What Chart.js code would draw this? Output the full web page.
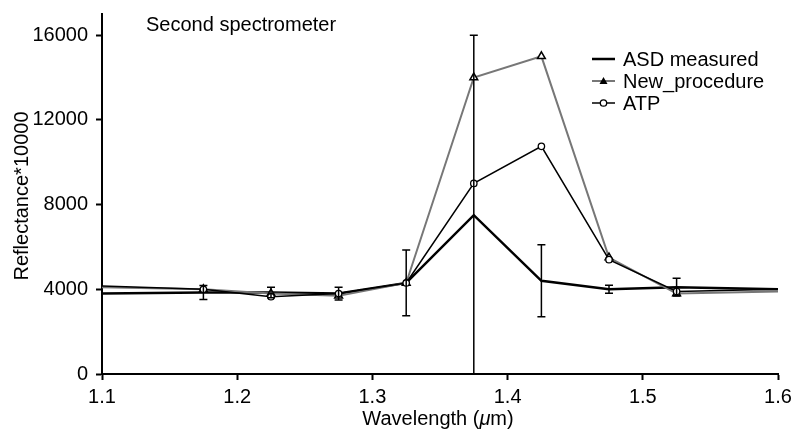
<!DOCTYPE html>
<html>
<head>
<meta charset="utf-8">
<script src="https://cdn.jsdelivr.net/npm/chart.js@4"></script>
<style>
  body { margin: 0; background: #fff; }
  canvas { display: block; }
</style>
</head>
<body>
<canvas id="chart" width="791" height="433"></canvas>
<script>
// Datos
const wavelengths = [1.1, 1.175, 1.225, 1.275, 1.325, 1.375, 1.425, 1.475, 1.525, 1.6];
const asdMeasured = [3800, 3850, 3850, 3800, 4300, 7500, 4400, 4000, 4100, 4000];
const asdError = [null, 330, 250, 300, 1550, 8500, 1700, 190, 420, null];
const newProcedure = [4100, 4000, 3800, 3700, 4300, 14000, 15000, 5500, 3800, 3900];
const atp = [4150, 4000, 3650, 3800, 4300, 9000, 10750, 5400, 3900, 4000];
const xTicks = [1.1, 1.2, 1.3, 1.4, 1.5, 1.6];
const yTicks = [0, 4000, 8000, 12000, 16000];

const FONT = '"Liberation Sans", Arial, sans-serif';

function toPoints(ys) {
    return wavelengths.map((x, i) => ({ x: x, y: ys[i] }));
}
// sin marcadores en los extremos
const markerRadius = (r) => wavelengths.map((x, i) => (i === 0 || i === wavelengths.length - 1) ? 0 : r);

// Barras de error sobre ASD measured
const errorBarsPlugin = {
    id: 'errorBars',
    afterDatasetsDraw(chart) {
        const ctx = chart.ctx;
        const xs = chart.scales.x, ys = chart.scales.y;
        ctx.save();
        ctx.strokeStyle = '#000';
        ctx.lineWidth = 1.5;
        wavelengths.forEach((w, i) => {
            if (asdError[i] == null) return;
            const px = xs.getPixelForValue(w);
            const hi = asdMeasured[i] + asdError[i];
            const lo = Math.max(ys.min, asdMeasured[i] - asdError[i]);
            const pyHi = ys.getPixelForValue(hi);
            const pyLo = ys.getPixelForValue(lo);
            ctx.beginPath();
            ctx.moveTo(px, pyHi); ctx.lineTo(px, pyLo);
            ctx.moveTo(px - 4, pyHi); ctx.lineTo(px + 4, pyHi);
            if (lo > ys.min) { ctx.moveTo(px - 4, pyLo); ctx.lineTo(px + 4, pyLo); }
            ctx.stroke();
        });
        ctx.restore();
    }
};

// Textos: título interno, títulos de ejes y leyenda
const labelsPlugin = {
    id: 'labels',
    afterDraw(chart) {
        const ctx = chart.ctx;
        ctx.save();
        ctx.fillStyle = '#000';
        ctx.font = '20px ' + FONT;
        ctx.textBaseline = 'middle';
        ctx.textAlign = 'left';
        ctx.fillText('Second spectrometer', 146, 25);

        // título eje x
        const t1 = 'Wavelength (', t3 = 'm)';
        ctx.font = '20px ' + FONT;
        const w1 = ctx.measureText(t1).width;
        ctx.font = 'italic 20px ' + FONT;
        const w2 = ctx.measureText('\u03bc').width;
        ctx.font = '20px ' + FONT;
        const w3 = ctx.measureText(t3).width;
        const sx = 438 - (w1 + w2 + w3) / 2;
        const ty = 419;
        ctx.fillText(t1, sx, ty);
        ctx.font = 'italic 20px ' + FONT;
        ctx.fillText('\u03bc', sx + w1, ty);
        ctx.font = '20px ' + FONT;
        ctx.fillText(t3, sx + w1 + w2, ty);

        // título eje y
        ctx.save();
        ctx.translate(22, 196);
        ctx.rotate(-Math.PI / 2);
        ctx.textAlign = 'center';
        ctx.fillText('Reflectance*10000', 0, 0);
        ctx.restore();

        // leyenda
        const items = [
            { label: 'ASD measured', color: '#000', width: 2.5, marker: null },
            { label: 'New_procedure', color: '#777', width: 2, marker: 'triangle' },
            { label: 'ATP', color: '#000', width: 1.5, marker: 'circle' }
        ];
        items.forEach((it, i) => {
            const y = 59 + i * 22;
            ctx.strokeStyle = it.color;
            ctx.lineWidth = it.width;
            ctx.beginPath();
            ctx.moveTo(592, y); ctx.lineTo(615, y);
            ctx.stroke();
            const cx = 603.5;
            if (it.marker === 'triangle') {
                ctx.fillStyle = '#000';
                ctx.beginPath();
                ctx.moveTo(cx, y - 4); ctx.lineTo(cx + 4, y + 3); ctx.lineTo(cx - 4, y + 3);
                ctx.closePath();
                ctx.fill();
            } else if (it.marker === 'circle') {
                ctx.fillStyle = '#fff';
                ctx.strokeStyle = '#000';
                ctx.lineWidth = 1.3;
                ctx.beginPath();
                ctx.arc(cx, y, 3.2, 0, Math.PI * 2);
                ctx.fill(); ctx.stroke();
            }
            ctx.fillStyle = '#000';
            ctx.textAlign = 'left';
            ctx.fillText(it.label, 623, y + 1);
        });
        ctx.restore();
    }
};

const ctx = document.getElementById('chart').getContext('2d');
new Chart(ctx, {
    type: 'line',
    data: {
        datasets: [
            {
                label: 'ATP',
                data: toPoints(atp),
                borderColor: '#000',
                borderWidth: 1.5,
                pointStyle: 'circle',
                pointRadius: markerRadius(3.2),
                pointBackgroundColor: '#fff',
                pointBorderColor: '#000',
                pointBorderWidth: 1.3,
                tension: 0
            },
            {
                label: 'New_procedure',
                data: toPoints(newProcedure),
                borderColor: '#777',
                borderWidth: 2,
                pointStyle: 'triangle',
                pointRadius: markerRadius(4.5),
                pointBackgroundColor: '#fff',
                pointBorderColor: '#000',
                pointBorderWidth: 1.5,
                tension: 0
            },
            {
                label: 'ASD measured',
                data: toPoints(asdMeasured),
                borderColor: '#000',
                borderWidth: 2.5,
                pointRadius: 0,
                tension: 0
            }
        ]
    },
    options: {
        responsive: false,
        animation: false,
        layout: { padding: { left: 0, right: 13, top: 14, bottom: 0 } },
        plugins: { legend: { display: false }, tooltip: { enabled: false } },
        scales: {
            x: {
                type: 'linear',
                min: 1.1,
                max: 1.6,
                afterBuildTicks: (s) => { s.ticks = xTicks.map(v => ({ value: v })); },
                afterFit: (s) => { s.height = 433 - 374; s.paddingLeft = 0; s.paddingRight = 0; },
                ticks: {
                    color: '#000',
                    font: { family: FONT, size: 20 },
                    padding: 5,
                    maxRotation: 0,
                    callback: (v) => v.toFixed(1)
                },
                grid: { display: true, drawOnChartArea: false, drawTicks: true, tickLength: 6, tickColor: '#000', tickWidth: 2 },
                border: { display: true, color: '#000', width: 2 }
            },
            y: {
                type: 'linear',
                min: 0,
                max: 17000,
                afterBuildTicks: (s) => { s.ticks = yTicks.map(v => ({ value: v })); },
                afterFit: (s) => { s.width = 102; s.paddingTop = 0; s.paddingBottom = 0; },
                ticks: {
                    color: '#000',
                    font: { family: FONT, size: 20 },
                    padding: 8,
                    callback: (v) => String(v)
                },
                grid: { display: true, drawOnChartArea: false, drawTicks: true, tickLength: 6, tickColor: '#000', tickWidth: 2 },
                border: { display: true, color: '#000', width: 2 }
            }
        }
    },
    plugins: [errorBarsPlugin, labelsPlugin]
});
</script>
</body>
</html>
